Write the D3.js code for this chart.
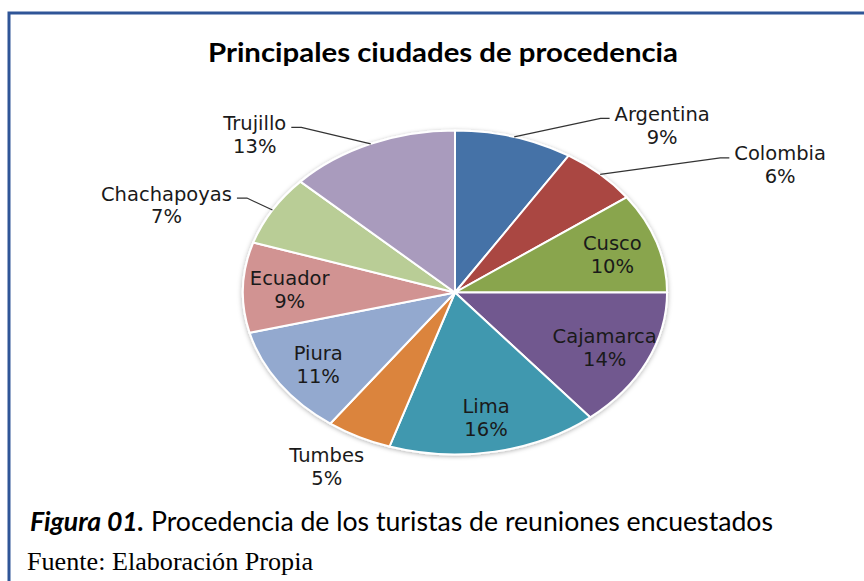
<!DOCTYPE html>
<html>
<head>
<meta charset="utf-8">
<script src="https://cdn.jsdelivr.net/npm/d3@7"></script>
<style>
  body { margin: 0; background: #fff; }
  svg { display: block; }
</style>
</head>
<body>
<svg id="chart"></svg>
<script>
// chart data
var cities = ["Argentina", "Colombia", "Cusco", "Cajamarca", "Lima", "Tumbes", "Piura", "Ecuador", "Chachapoyas", "Trujillo"];
var shares = [9, 6, 10, 14, 16, 5, 11, 9, 7, 13];
var colors = ["#4572A7", "#AA4643", "#89A54E", "#71588F", "#4198AF", "#DB843D", "#93A9CF", "#D19392", "#B9CD96", "#A99BBD"];

// labels drawn outside the pie, with their offset from the slice edge (dx, dy) and leader flag
var outsideLabels = {
    "Argentina":   { dx: 148,  dy: -12.5, leader: true },
    "Colombia":    { dx: 180,  dy: -10.5, leader: true },
    "Tumbes":      { dx: -32,  dy: 29,    leader: false },
    "Chachapoyas": { dx: -106, dy: -6,    leader: true },
    "Trujillo":    { dx: -116, dy: -10.5, leader: true }
};

var W = 864, H = 581;
var cx = 455, cy = 292.5;
var R = 162, sx = 1.309;     // the pie is stretched horizontally
var fontSize = 19.5;
var lineGap = 22.8;

var svg = d3.select("#chart").attr("width", W).attr("height", H);

// shadow under the pie
var defs = svg.append("defs");
var f = defs.append("filter").attr("id", "shadow")
    .attr("x", "-10%").attr("y", "-10%").attr("width", "120%").attr("height", "120%");
f.append("feDropShadow").attr("dx", 0).attr("dy", 1).attr("stdDeviation", 2)
    .attr("flood-color", "#000").attr("flood-opacity", 0.3);

// frame
svg.append("rect")
    .attr("x", 9).attr("y", 13).attr("width", W + 20).attr("height", H + 20)
    .attr("fill", "none").attr("stroke", "#2F5597").attr("stroke-width", 3);

// title
svg.append("text")
    .attr("x", 443).attr("y", 62)
    .attr("text-anchor", "middle")
    .attr("font-family", "Lato, 'Open Sans', sans-serif")
    .attr("font-weight", "bold")
    .attr("font-size", 26)
    .attr("textLength", 470)
    .attr("lengthAdjust", "spacingAndGlyphs")
    .attr("fill", "#000")
    .text("Principales ciudades de procedencia");

var data = cities.map(function(c, i) { return { city: c, value: shares[i], color: colors[i] }; });

var pie = d3.pie().sort(null).value(function(d) { return d.value; });
var arcs = pie(data);

var arc = d3.arc().innerRadius(0).outerRadius(R);
var labelArc = d3.arc().innerRadius(R * 0.78).outerRadius(R * 0.78);
var edgeArc = d3.arc().innerRadius(R).outerRadius(R);

function toScreen(p) { return [cx + p[0] * sx, cy + p[1]]; }

svg.append("g")
    .attr("transform", "translate(" + cx + "," + cy + ") scale(" + sx + ",1)")
    .attr("filter", "url(#shadow)")
    .selectAll("path")
    .data(arcs)
    .enter()
    .append("path")
    .attr("d", arc)
    .attr("fill", function(d) { return d.data.color; })
    .attr("stroke", "#fff")
    .attr("stroke-width", 2)
    .attr("vector-effect", "non-scaling-stroke");

var labels = svg.append("g");

// draws a two line label centred on (x, ymid), returns its width and first baseline
function drawLabel(x, ymid, lines) {
    var b1 = ymid - 3.5;
    var w = 0;
    lines.forEach(function(s, i) {
        var t = labels.append("text")
            .attr("x", x).attr("y", b1 + i * lineGap)
            .attr("text-anchor", "middle")
            .attr("font-family", "'DejaVu Sans', sans-serif")
            .attr("font-size", fontSize)
            .attr("fill", "#1a1a1a")
            .text(s);
        if (i == 0) w = t.node().getComputedTextLength();
    });
    return { width: w, baseline: b1 };
}

arcs.forEach(function(d) {
    var name = d.data.city;
    var lines = [name, d.data.value + "%"];
    var o = outsideLabels[name];
    if (!o) {
        var p = toScreen(labelArc.centroid(d));
        drawLabel(p[0], p[1], lines);
        return;
    }
    var e = toScreen(edgeArc.centroid(d));
    var tx = e[0] + o.dx, ty = e[1] + o.dy;
    var info = drawLabel(tx, ty, lines);
    if (!o.leader) return;
    var ly = info.baseline - 2.5;
    var pts;
    if (o.dx > 0) {
        var left = tx - info.width / 2;
        pts = [e, [left - 14, ly], [left - 5, ly]];
    } else {
        var right = tx + info.width / 2;
        pts = [e, [right + 15, ly], [right + 5, ly]];
    }
    labels.append("path")
        .attr("d", d3.line()(pts))
        .attr("fill", "none")
        .attr("stroke", "#333")
        .attr("stroke-width", 1.2);
});

// caption
var cap = svg.append("text")
    .attr("x", 30).attr("y", 531)
    .attr("font-family", "Lato, 'Open Sans', sans-serif")
    .attr("font-size", 26)
    .attr("textLength", 743)
    .attr("lengthAdjust", "spacingAndGlyphs")
    .attr("fill", "#000");
cap.append("tspan").attr("font-weight", "bold").attr("font-style", "italic").text("Figura 01.");
cap.append("tspan").text("   Procedencia de los turistas de reuniones encuestados");

svg.append("text")
    .attr("x", 27).attr("y", 570)
    .attr("font-family", "'Liberation Serif', 'Times New Roman', serif")
    .attr("font-size", 26)
    .attr("textLength", 286)
    .attr("lengthAdjust", "spacingAndGlyphs")
    .attr("fill", "#000")
    .text("Fuente: Elaboración Propia");
</script>
</body>
</html>
